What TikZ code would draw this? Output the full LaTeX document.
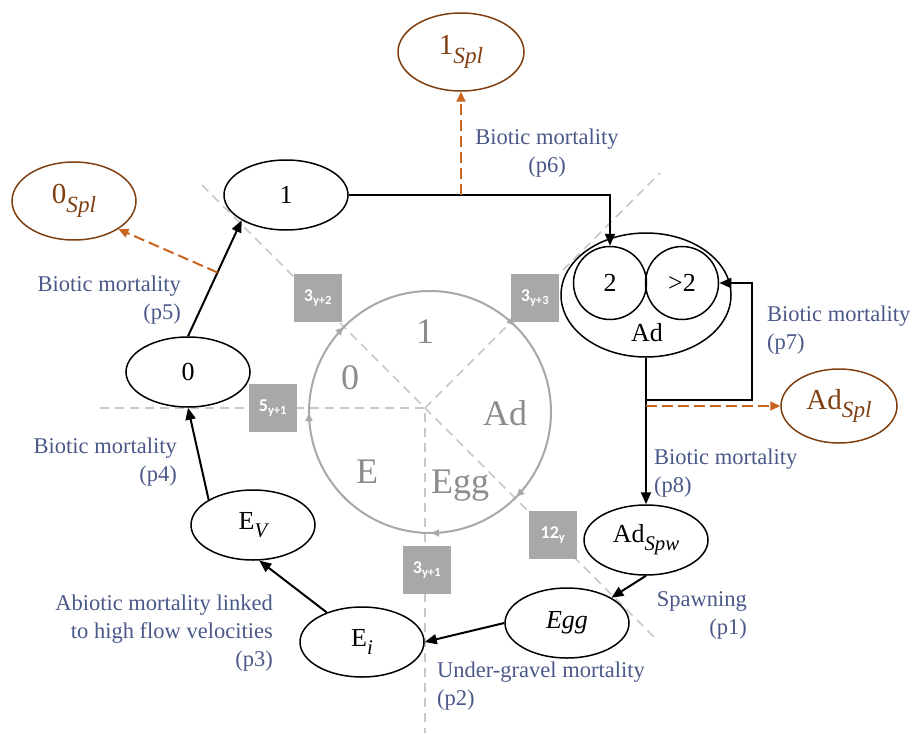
\documentclass[tikz,border=0pt]{standalone}
\usepackage{fontspec}
\setmainfont{Liberation Serif}
\setsansfont{Carlito}
\usepackage{graphicx}
\usepackage{tikz}
\usetikzlibrary{positioning,shapes.geometric,arrows.meta,calc,decorations.markings}
\definecolor{LCBlue}{HTML}{4A5888}
\definecolor{LCOrange}{HTML}{C8641E}
\definecolor{LCBrown}{HTML}{7F3F10}
\definecolor{LCGrey}{HTML}{A8A8A8}
\definecolor{LCDash}{HTML}{C8C8C8}
\definecolor{LCText}{HTML}{8C8C8C}
\newcommand{\lsub}[1]{\raisebox{-0.3em}{\scalebox{0.8}{\itshape #1}}}
\begin{document}
\begin{tikzpicture}[x=1pt,y=-1pt,
  st/.style={ellipse, draw=black, fill=white, line width=1.5pt, minimum width=124pt,
    minimum height=70pt, inner sep=0pt, font=\fontsize{26}{30}\selectfont},
  spl/.style={st, draw=LCBrown, text=LCBrown, minimum height=78pt, font=\fontsize{29}{33}\selectfont},
  sub/.style={circle, draw=black, line width=1.5pt, minimum size=73pt, inner sep=0pt,
    font=\fontsize{26}{30}\selectfont},
  lbl/.style={text=LCBlue, font=\fontsize{22.5}{28}\selectfont, inner sep=0pt},
  yr/.style={rectangle, fill=LCGrey, text=white, minimum size=48pt, inner sep=0pt,
    font=\fontsize{18}{20}\selectfont\sffamily\bfseries},
  ph/.style={text=LCText, font=\fontsize{36}{40}\selectfont, anchor=base, inner sep=0pt},
  arr/.style={-{Triangle[length=12pt,width=10pt]}, line width=2pt},
  splarr/.style={-{Triangle[length=10pt,width=9pt]}, LCOrange, line width=2pt, dash pattern=on 11pt off 5pt},
  guide/.style={LCDash, line width=1.6pt, dash pattern=on 9pt off 6pt}]
  \useasboundingbox (0,0) rectangle (912,733);

  % life-cycle wheel
  \coordinate (ctr) at (425,408);
  \coordinate (gW) at (100,408);
  \coordinate (gS) at (425,733);
  \coordinate (gNW) at (202,185);
  \coordinate (gNE) at (660,173);
  \coordinate (gSE) at (654,637);
  \draw[guide] (gW) -- (ctr) -- (gS);
  \draw[guide] (gNW) -- (ctr) -- (gSE);
  \draw[guide] (ctr) -- (gNE);
  \draw[LCGrey, line width=2pt, postaction={decorate}, decoration={markings,
      mark=at position 0.0833 with {\arrow{Latex[length=9pt,width=8pt]}},
      mark=at position 0.2083 with {\arrow{Latex[length=9pt,width=8pt]}},
      mark=at position 0.4583 with {\arrow{Latex[length=9pt,width=8pt]}},
      mark=at position 0.7083 with {\arrow{Latex[length=9pt,width=8pt]}},
      mark=at position 0.8333 with {\arrow{Latex[length=9pt,width=8pt]}}}]
    (430,412) ++(150:121) arc[start angle=150, end angle=510, radius=121];
  \node[ph] (w1) at (425,343) {1};
  \node[ph] (w0) at (350,389) {0};
  \node[ph] (wad) at (505,425) {Ad};
  \node[ph] (we) at (367,483) {E};
  \node[ph] (wegg) at (460,493) {Egg};

  % year boxes
  \node[yr] (y2) at (318,298) {3\textsubscript{y+2}};
  \node[yr] (y3) at (535,298) {3\textsubscript{y+3}};
  \node[yr] (y5) at (273,408) {5\textsubscript{y+1}};
  \node[yr] (y12) at (553,535) {12\textsubscript{y}};
  \node[yr] (y1) at (427,570) {3\textsubscript{y+1}};

  % stages
  \node[spl] (spl0) at (74,201) {0\lsub{Spl}};
  \node[spl, minimum width=126pt] (spl1) at (461,52) {1\lsub{Spl}};
  \node[spl, minimum width=116pt, minimum height=74pt] (adspl) at (839,406) {Ad\lsub{Spl}};
  \node[st] (one) at (286,195) {1};
  \node[st] (zero) at (188,372) {0};
  \node[st] (ev) at (253,525) {E\lsub{V}};
  \node[st] (ei) at (362,642) {E\lsub{i}};
  \node[st] (egg) at (567,623) {\itshape Egg};
  \node[st] (adspw) at (646,540) {Ad\lsub{Spw}};
  \node[st, minimum width=170pt, minimum height=124pt] (ad) at (646,295) {};
  \node[sub] (c2) at (610,283) {2};
  \node[sub] (cgt) at (682,283) {>2};
  \node[font=\fontsize{26}{30}\selectfont, inner sep=0pt] (adlbl) at (647,333) {Ad};

  % transitions
  \draw[arr] (one.east) -| (c2.north);
  \coordinate (b6) at (spl1.south |- one.east);
  \draw[splarr] (b6) -- (spl1.south);
  \draw[arr] (zero.north) -- (one.south west);
  \coordinate (b5) at ($(zero.north)!0.55!(one.south west)$);
  \draw[splarr] (b5) -- (spl0.south east);
  \draw[arr] (ev.north west) -- (zero.south);
  \draw[arr] (ei.140) -- (ev.-80);
  \draw[arr] (egg.west) -- (ei.east);
  \draw[arr] (adspw.south) -- (egg.north east);
  \draw[arr] (ad.south) -- (adspw.north);
  \coordinate (loop) at (752,400);
  \draw[arr] (ad.south) |- (loop) |- (cgt.east);
  \draw[splarr] (ad.south |- adspl.west) -- (adspl.west);

  % rates
  \node[lbl, align=right, anchor=east] (p5) at (181,300) {Biotic mortality\\(p5)};
  \node[lbl, align=center] (p6) at (547,153) {Biotic mortality\\(p6)};
  \node[lbl, align=left, anchor=west] (p7) at (767,330) {Biotic mortality\\(p7)};
  \node[lbl, align=left, anchor=west] (p8) at (654,473) {Biotic mortality\\(p8)};
  \node[lbl, align=right, anchor=east] (p1) at (747,615) {Spawning\\(p1)};
  \node[lbl, align=left, anchor=west] (p2) at (437,686) {Under-gravel mortality\\(p2)};
  \node[lbl, align=right, anchor=east] (p3) at (273,633) {Abiotic mortality linked\\to high flow velocities\\(p3)};
  \node[lbl, align=right, anchor=east] (p4) at (177,462) {Biotic mortality\\(p4)};
\end{tikzpicture}
\end{document}
